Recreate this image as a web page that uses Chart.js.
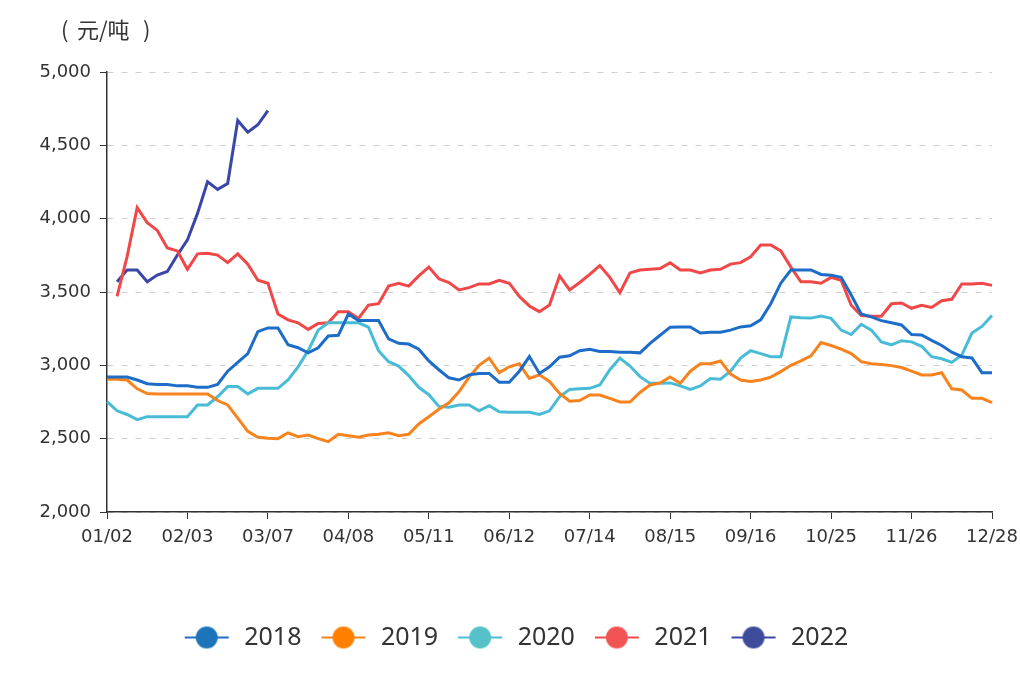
<!DOCTYPE html>
<html>
<head>
<meta charset="utf-8">
<script src="https://cdn.jsdelivr.net/npm/chart.js@4.4.1/dist/chart.umd.min.js"></script>
<style>
  html, body { margin: 0; padding: 0; background: #fff; }
  #wrap { width: 1020px; height: 682px; position: relative; }
</style>
</head>
<body>
<div id="wrap"><canvas id="myChart"></canvas></div>
<script>
// x 轴标签，每 8 个采样点（约 4 天一个点）一个标签
const tickLabels = ['01/02', '02/03', '03/07', '04/08', '05/11', '06/12', '07/14', '08/15', '09/16', '10/25', '11/26', '12/28'];
const tickStep = 8;

const years = ['2018', '2019', '2020', '2021', '2022'];
const lineColors = ['#1c6cc8', '#f7831e', '#48bcd6', '#f04848', '#3b47a8'];
const dotColors = ['#1b75b8', '#ff8000', '#55c2c9', '#f25454', '#3d4c9a'];

const price2018 = [
  2920, 2920, 2920, 2900, 2875, 2870, 2870, 2860, 2860, 2850,
  2850, 2870, 2960, 3020, 3080, 3230, 3255, 3255, 3140, 3120,
  3085, 3120, 3200, 3205, 3350, 3305, 3305, 3305, 3180, 3150,
  3145, 3110, 3030, 2970, 2915, 2900, 2935, 2945, 2945, 2885,
  2885, 2960, 3060, 2945, 2990, 3055, 3065, 3100, 3110, 3095,
  3095, 3090, 3090, 3085, 3150, 3205, 3260, 3262, 3262, 3220,
  3225, 3225, 3240, 3262, 3270, 3310, 3420, 3560, 3650, 3650,
  3650, 3620, 3615, 3600, 3480, 3350, 3330, 3305, 3290, 3275,
  3210, 3207, 3170, 3135, 3090, 3059, 3050, 2950, 2950
];
const price2019 = [
  2905, 2905, 2900, 2840, 2808, 2805, 2805, 2805, 2805, 2805,
  2805, 2760, 2730, 2640, 2550, 2510, 2503, 2500, 2540, 2514,
  2525, 2500, 2480, 2530, 2520, 2510, 2525, 2530, 2540, 2520,
  2530, 2600, 2650, 2700, 2745, 2820, 2920, 3000, 3050, 2950,
  2990, 3010, 2910, 2935, 2890, 2809, 2755, 2760, 2798, 2798,
  2775, 2750, 2750, 2815, 2866, 2880, 2920, 2877, 2960, 3011,
  3011, 3030, 2940, 2900, 2890, 2900, 2920, 2957, 3000, 3030,
  3065, 3155, 3135, 3110, 3080, 3025, 3011, 3005, 2998, 2985,
  2960, 2934, 2934, 2950, 2840, 2832, 2775, 2775, 2746
];
const price2020 = [
  2752, 2690, 2665, 2630, 2650, 2650, 2650, 2650, 2650, 2730,
  2730, 2786, 2855, 2855, 2805, 2843, 2843, 2843, 2900, 2990,
  3100, 3240, 3290, 3290, 3290, 3290, 3260, 3100, 3025, 2995,
  2930, 2850, 2800, 2720, 2715, 2730, 2730, 2690, 2725, 2684,
  2680, 2680, 2680, 2665, 2690, 2786, 2836, 2840, 2843, 2866,
  2970, 3050, 2995, 2923, 2877, 2877, 2880, 2860, 2836, 2860,
  2910, 2905, 2960, 3050, 3100, 3080, 3059, 3059, 3330, 3325,
  3322, 3336, 3320, 3240, 3210, 3280, 3240, 3160, 3140, 3168,
  3160, 3130, 3059, 3045, 3020, 3070, 3220, 3265, 3340
];
const price2021 = [
  null, 3470, 3741, 4075, 3973, 3920, 3800, 3780, 3655, 3760,
  3764, 3752, 3700, 3760, 3690, 3580, 3560, 3350, 3310, 3290,
  3245, 3285, 3290, 3366, 3366, 3320, 3411, 3420, 3540, 3560,
  3540, 3610, 3670, 3590, 3565, 3514, 3530, 3555, 3555, 3580,
  3560, 3470, 3405, 3366, 3411, 3610, 3514, 3565, 3620, 3680,
  3600, 3495, 3630, 3650, 3655, 3660, 3700, 3650, 3650, 3630,
  3650, 3655, 3690, 3700, 3740, 3820, 3820, 3780, 3670, 3570,
  3570, 3560, 3600, 3580, 3410, 3340, 3335, 3335, 3420, 3425,
  3389, 3410, 3395, 3440, 3450, 3555, 3555, 3560, 3545
];
const price2022 = [
  null, 3570, 3650, 3650, 3570, 3616, 3640, 3752, 3855, 4036,
  4252, 4200, 4240, 4670, 4590, 4640, 4736
];

const yTicks = { min: 2000, max: 5000, step: 500 };

// 类目：与采样点一一对应，只在刻度位置放标签
const categories = Array.from({ length: (tickLabels.length - 1) * tickStep + 1 }, (_, i) =>
  i % tickStep === 0 ? tickLabels[i / tickStep] : '');

/**
 * legend 图示：线段 + 圆点
 */
function legendIcon(lineColor, dotColor) {
  const c = document.createElement('canvas');
  c.width = 50;
  c.height = 24;
  const g = c.getContext('2d');
  g.strokeStyle = lineColor;
  g.lineWidth = 2;
  g.beginPath();
  g.moveTo(3, 12);
  g.lineTo(47, 12);
  g.stroke();
  g.fillStyle = dotColor;
  g.beginPath();
  g.arc(25, 12, 11, 0, Math.PI * 2);
  g.fill();
  return c;
}
const legendIcons = years.map((y, i) => legendIcon(lineColors[i], dotColors[i]));

// 单位（元/吨）
const unitTitle = {
  id: 'unitTitle',
  afterDraw(chart) {
    const c = chart.ctx;
    c.save();
    c.font = '22px "Noto Sans CJK SC"';
    c.fillStyle = '#333';
    c.textBaseline = 'middle';
    c.fillText('(', 61, 30);
    c.fillText('元/吨', 77, 30);
    c.fillText(')', 143, 30);
    c.restore();
  }
};

const seriesList = [price2018, price2019, price2020, price2021, price2022];

const ctx = document.getElementById('myChart');
new Chart(ctx, {
  type: 'line',
  data: {
    labels: categories,
    datasets: years.map((y, i) => ({
      label: y,
      data: seriesList[i],
      borderColor: lineColors[i],
      backgroundColor: dotColors[i],
      borderWidth: 3,
      pointRadius: 0,
      tension: 0,
      fill: false,
    })),
  },
  plugins: [unitTitle],
  options: {
    responsive: true,
    maintainAspectRatio: false,
    animation: false,
    layout: { padding: { left: 38, right: 28, top: 72, bottom: 22 } },
    plugins: {
      tooltip: { enabled: false },
      legend: {
        position: 'bottom',
        labels: {
          usePointStyle: true,
          pointStyleWidth: 50,
          padding: 17,
          color: '#333',
          font: { family: 'Noto Sans', size: 25 },
          generateLabels(chart) {
            const items = Chart.defaults.plugins.legend.labels.generateLabels(chart);
            items.forEach((it, i) => { it.pointStyle = legendIcons[i]; });
            return items;
          },
        },
      },
    },
    scales: {
      x: {
        type: 'category',
        offset: false,
        afterBuildTicks(scale) {
          scale.ticks = scale.ticks.filter(t => t.value % tickStep === 0);
        },
        afterFit(scale) {
          scale.height = 96;
          scale.paddingLeft = 0;
          scale.paddingRight = 0;
        },
        ticks: {
          autoSkip: false,
          maxRotation: 0,
          padding: 8,
          color: '#333',
          font: { family: 'DejaVu Sans', size: 18 },
        },
        grid: { drawOnChartArea: false, tickLength: 7, tickColor: '#333' },
        border: { color: '#333', width: 1.5 },
      },
      y: {
        min: yTicks.min,
        max: yTicks.max,
        afterFit(scale) { scale.width = 69; },
        ticks: {
          stepSize: yTicks.step,
          padding: 9,
          color: '#333',
          font: { family: 'DejaVu Sans', size: 18 },
          callback: (v) => v.toLocaleString('en-US'),
        },
        grid: { color: '#cfcfcf', tickLength: 7, tickColor: '#333', tickBorderDash: [] },
        border: { color: '#333', width: 1.5, dash: [6, 8] },
      },
    },
  },
});
</script>
</body>
</html>
